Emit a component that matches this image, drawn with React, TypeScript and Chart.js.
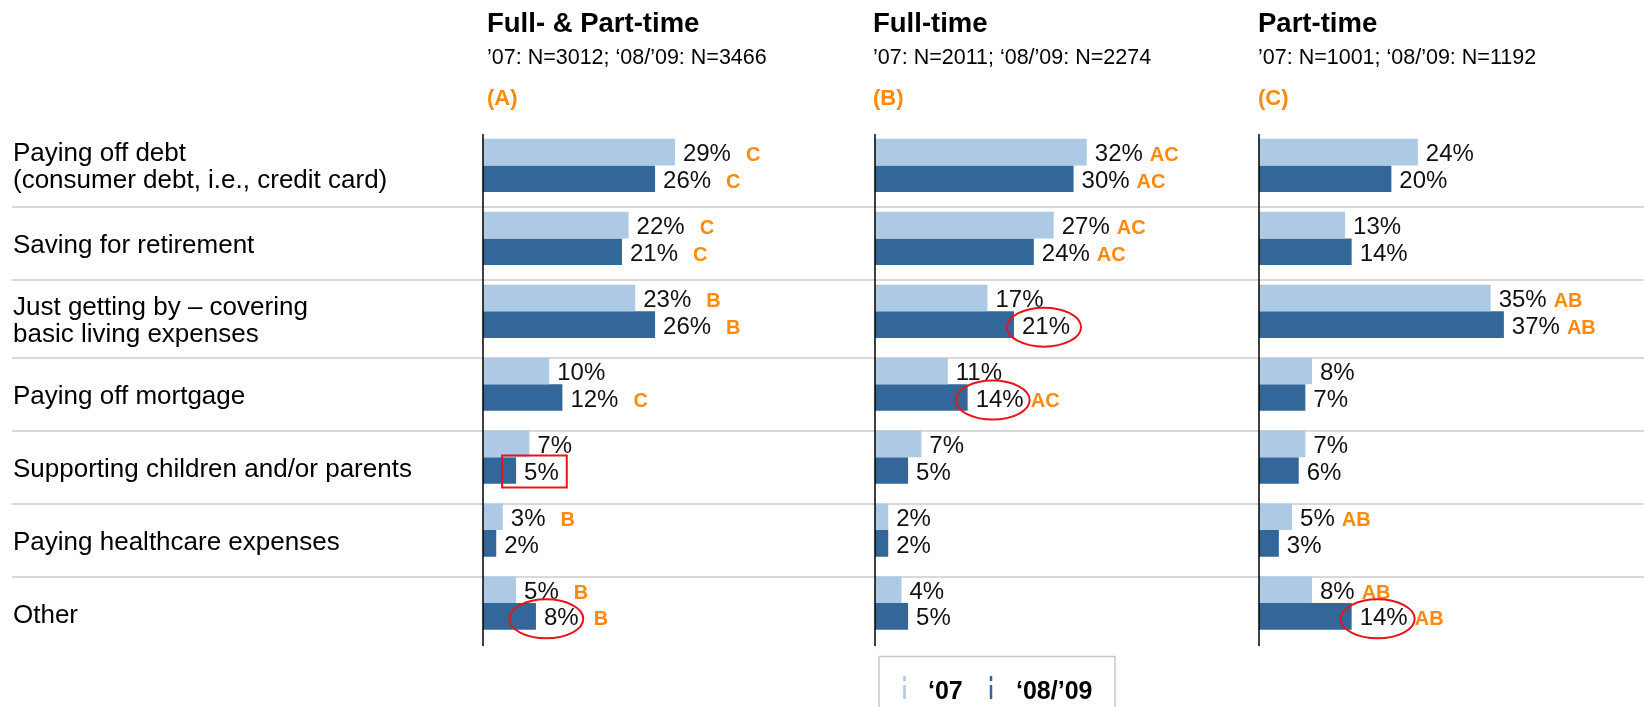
import React, { useEffect, useRef } from "react";
import { Chart, registerables } from "chart.js";

Chart.register(...registerables);

// ---------------- data ----------------
const categories: (string | string[])[] = [
  ["Paying off debt", "(consumer debt, i.e., credit card)"],
  "Saving for retirement",
  ["Just getting by – covering", "basic living expenses"],
  "Paying off mortgage",
  "Supporting children and/or parents",
  "Paying healthcare expenses",
  "Other",
];
const seriesNames = ["‘07", "‘08/’09"];

const panelTitles = ["Full- & Part-time", "Full-time", "Part-time"];
const panelSubtitles = [
  "’07: N=3012; ‘08/’09: N=3466",
  "’07: N=2011; ‘08/’09: N=2274",
  "’07: N=1001; ‘08/’09: N=1192",
];
const panelLetters = ["(A)", "(B)", "(C)"];

const allValues07 = [29, 22, 23, 10, 7, 3, 5];
const allValues0809 = [26, 21, 26, 12, 5, 2, 8];
const fullValues07 = [32, 27, 17, 11, 7, 2, 4];
const fullValues0809 = [30, 24, 21, 14, 5, 2, 5];
const partValues07 = [24, 13, 35, 8, 7, 5, 8];
const partValues0809 = [20, 14, 37, 7, 6, 3, 14];

// significance letters
const allSig07 = ["C", "C", "B", "", "", "B", "B"];
const allSig0809 = ["C", "C", "B", "C", "", "", "B"];
const fullSig07 = ["AC", "AC", "", "", "", "", ""];
const fullSig0809 = ["AC", "AC", "", "AC", "", "", ""];
const partSig07 = ["", "", "AB", "", "", "AB", "AB"];
const partSig0809 = ["", "", "AB", "", "", "", "AB"];

// highlighted '08/'09 values: category index and mark shape
const allHighlights: [number, string][] = [[4, "box"], [6, "ellipse"]];
const fullHighlights: [number, string][] = [[2, "ellipse"], [3, "ellipse"]];
const partHighlights: [number, string][] = [[6, "ellipse"]];

const xMax = 55;

// ---------------- styles / layout ----------------
const LIGHT = "#ADC9E4";
const DARK = "#33679A";
const ORANGE = "#FF8A0D";
const RED = "#E8141B";
const SEP = "#D9D9D9";
const FONT = "'Liberation Sans', Arial, sans-serif";

const H = 707;
const PAD_TOP = 129;
const PAD_BOTTOM = 67.5;
const PANELS = [
  { left: 0, width: 870, padL: 483, padR: 23, headerDx: 4, sigGap: 15, sepStart: 12, showCats: true, showLegend: false },
  { left: 870, width: 380, padL: 5, padR: 11, headerDx: -2, sigGap: 7, sepStart: 0, showCats: false, showLegend: true },
  { left: 1250, width: 394, padL: 9, padR: 21, headerDx: -1, sigGap: 7, sepStart: 0, showCats: false, showLegend: false },
];
// hand-drawn marks: horizontal nudge of each ellipse (px), same order as highlight lists
const highlightNudge = [[0, -12], [1, -4], [-3]];
// vertical nudge of category labels and separators (px)
const labelNudge = [2, 7.5, 10, 12.5, 12.5, 12.5, 12.5];
const sepNudge = [5, 5, 10.5, 10.5, 10.5, 10.5];

const panelValues = [
  [allValues07, allValues0809],
  [fullValues07, fullValues0809],
  [partValues07, partValues0809],
];
const panelSigs = [
  [allSig07, allSig0809],
  [fullSig07, fullSig0809],
  [partSig07, partSig0809],
];
const panelHighlights = [allHighlights, fullHighlights, partHighlights];

function makePlugin(k: number) {
  const p = PANELS[k];
  return {
    id: "panelDecor" + k,
    beforeDatasetsDraw(chart: any) {
      const ctx = chart.ctx;
      const ca = chart.chartArea;
      const y = chart.scales.y;
      ctx.save();
      // row separators
      ctx.strokeStyle = SEP;
      ctx.lineWidth = 2;
      for (let i = 1; i < categories.length; i++) {
        const yy = Math.round((y.getPixelForTick(i - 1) + y.getPixelForTick(i)) / 2 + sepNudge[i - 1]);
        ctx.beginPath();
        ctx.moveTo(p.sepStart, yy);
        ctx.lineTo(chart.width, yy);
        ctx.stroke();
      }
      // category labels
      if (p.showCats) {
        ctx.fillStyle = "#000";
        ctx.font = `26px ${FONT}`;
        ctx.textAlign = "left";
        ctx.textBaseline = "middle";
        const labels = chart.data.labels as (string | string[])[];
        labels.forEach((lab, i) => {
          const lines = Array.isArray(lab) ? lab : [lab];
          const cy = y.getPixelForTick(i) + labelNudge[i];
          const lh = 27;
          lines.forEach((ln, j) => {
            ctx.fillText(ln, 13, cy + (j - (lines.length - 1) / 2) * lh);
          });
        });
      }
      // headers
      const hx = ca.left + p.headerDx;
      ctx.textAlign = "left";
      ctx.textBaseline = "alphabetic";
      ctx.fillStyle = "#000";
      ctx.font = `bold 27.5px ${FONT}`;
      ctx.fillText(panelTitles[k], hx, 32);
      ctx.font = `21.5px ${FONT}`;
      ctx.fillText(panelSubtitles[k], hx, 64);
      ctx.fillStyle = ORANGE;
      ctx.font = `bold 22px ${FONT}`;
      ctx.fillText(panelLetters[k], hx, 105);
      ctx.restore();
    },
    afterDatasetsDraw(chart: any) {
      const ctx = chart.ctx;
      const ca = chart.chartArea;
      ctx.save();
      // axis line
      ctx.strokeStyle = "#000";
      ctx.lineWidth = 1.5;
      ctx.beginPath();
      ctx.moveTo(ca.left, ca.top + 5);
      ctx.lineTo(ca.left, ca.bottom + 6.5);
      ctx.stroke();

      chart.data.datasets.forEach((ds: any, di: number) => {
        const meta = chart.getDatasetMeta(di);
        meta.data.forEach((bar: any, i: number) => {
          const txt = ds.data[i] + "%";
          const tx = bar.x + 8;
          const ty = bar.y + 2.5;
          ctx.font = `24px ${FONT}`;
          ctx.fillStyle = "#111";
          ctx.textAlign = "left";
          ctx.textBaseline = "middle";
          ctx.fillText(txt, tx, ty);
          const w = ctx.measureText(txt).width;
          const sig = panelSigs[k][di][i];
          if (sig) {
            ctx.font = `bold 20px ${FONT}`;
            ctx.fillStyle = ORANGE;
            ctx.fillText(sig, tx + w + p.sigGap, ty + 1);
          }
          if (di === 1) {
            const hi = panelHighlights[k].findIndex((h) => h[0] === i);
            if (hi >= 0) {
              const hl = panelHighlights[k][hi];
              ctx.strokeStyle = RED;
              ctx.lineWidth = 2;
              ctx.beginPath();
              if (hl[1] === "box") {
                const x0 = bar.x - 14;
                const x1 = tx + w + 8;
                ctx.rect(x0, bar.y - 15, x1 - x0, 32);
              } else {
                ctx.ellipse(tx + w / 2 - 3 + highlightNudge[k][hi], ty, 37, 19.5, 0, 0, Math.PI * 2);
              }
              ctx.stroke();
            }
          }
        });
      });
      ctx.restore();
    },
    afterDraw(chart: any) {
      if (!p.showLegend) return;
      const ctx = chart.ctx;
      ctx.save();
      // legend box
      ctx.strokeStyle = "#C8C8C8";
      ctx.lineWidth = 1.5;
      ctx.strokeRect(9, 656.5, 236, 70);
      const markerX = [34.5, 121];
      const textX = [58, 146];
      chart.data.datasets.forEach((ds: any, di: number) => {
        ctx.strokeStyle = ds.backgroundColor;
        ctx.lineWidth = 2.5;
        ctx.setLineDash([5, 4, 14, 0]);
        ctx.beginPath();
        ctx.moveTo(markerX[di], 676);
        ctx.lineTo(markerX[di], 699);
        ctx.stroke();
        ctx.setLineDash([]);
        ctx.fillStyle = "#000";
        ctx.font = `bold 25px ${FONT}`;
        ctx.textAlign = "left";
        ctx.textBaseline = "alphabetic";
        ctx.fillText(ds.label, textX[di], 699);
      });
      ctx.restore();
    },
  };
}

function makeConfig(k: number): any {
  const p = PANELS[k];
  return {
    type: "bar",
    data: {
      labels: categories,
      datasets: [
        {
          label: seriesNames[0],
          data: panelValues[k][0],
          backgroundColor: LIGHT,
          borderWidth: 0,
          categoryPercentage: 0.73,
          barPercentage: 1,
        },
        {
          label: seriesNames[1],
          data: panelValues[k][1],
          backgroundColor: DARK,
          borderWidth: 0,
          categoryPercentage: 0.73,
          barPercentage: 1,
        },
      ],
    },
    options: {
      indexAxis: "y",
      responsive: false,
      maintainAspectRatio: false,
      animation: false,
      layout: { padding: { left: p.padL, right: p.padR, top: PAD_TOP, bottom: PAD_BOTTOM } },
      plugins: { legend: { display: false }, tooltip: { enabled: false } },
      scales: {
        x: { type: "linear", min: 0, max: xMax, display: false },
        y: { type: "category", display: false, offset: true },
      },
    },
    plugins: [makePlugin(k)],
  };
}

export default function App() {
  const r0 = useRef<HTMLCanvasElement>(null);
  const r1 = useRef<HTMLCanvasElement>(null);
  const r2 = useRef<HTMLCanvasElement>(null);
  const refs = [r0, r1, r2];

  useEffect(() => {
    const charts = refs.map((r, k) => new Chart(r.current as HTMLCanvasElement, makeConfig(k)));
    return () => charts.forEach((c) => c.destroy());
  }, []);

  return (
    <div
      style={{
        position: "absolute",
        left: 0,
        top: 0,
        width: 1644,
        height: H,
        background: "#fff",
        overflow: "hidden",
      }}
    >
      {PANELS.map((p, k) => (
        <canvas
          key={k}
          ref={refs[k]}
          width={p.width}
          height={H}
          style={{ position: "absolute", left: p.left, top: 0, width: p.width, height: H }}
        />
      ))}
    </div>
  );
}
